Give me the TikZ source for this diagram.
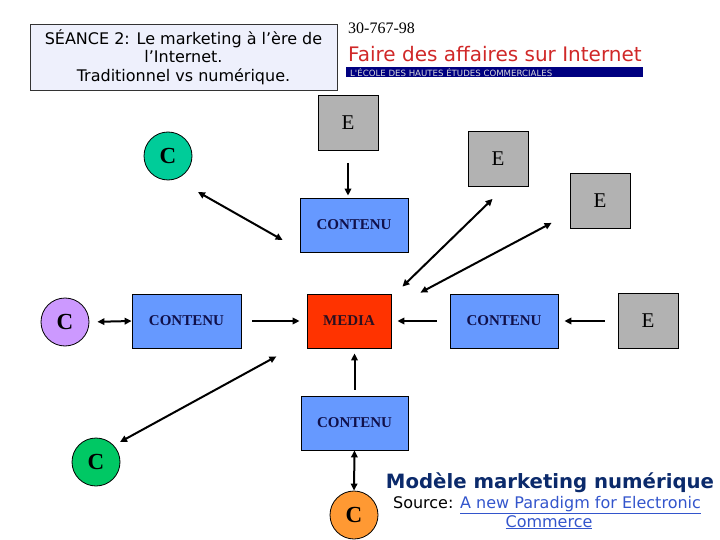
\documentclass[tikz,border=0pt]{standalone}
\usepackage{fontspec}
\setmainfont{Liberation Serif}
\newfontfamily\tah{DejaVu Sans}
\usetikzlibrary{arrows.meta,calc}
\definecolor{egray}{HTML}{B2B2B2}
\definecolor{cblue}{HTML}{6699FF}
\definecolor{ctext}{HTML}{10104A}
\definecolor{mred}{HTML}{FF3300}
\definecolor{mtext}{HTML}{2A1020}
\definecolor{cteal}{HTML}{00CC99}
\definecolor{cpurple}{HTML}{CC99FF}
\definecolor{cgreen}{HTML}{00C864}
\definecolor{corange}{HTML}{FF9933}
\definecolor{tfill}{HTML}{EEF0FC}
\definecolor{tborder}{HTML}{333333}
\definecolor{fred}{HTML}{D02828}
\definecolor{barnavy}{HTML}{000080}
\definecolor{navyt}{HTML}{0B2A6B}
\definecolor{linkb}{HTML}{3355CC}
\begin{document}
\begin{tikzpicture}[x=1pt,y=-1pt,
  ebox/.style={draw=black, line width=0.8pt, fill=egray, minimum width=60pt, minimum height=55pt, inner sep=0pt, font=\fontsize{21}{21}\selectfont},
  cbox/.style={draw=black, line width=0.8pt, fill=cblue, minimum width=108pt, minimum height=54pt, inner sep=0pt, font=\fontsize{15}{15}\selectfont\bfseries, text=ctext},
  ccirc/.style={circle, draw=black, line width=0.8pt, minimum size=48pt, inner sep=0pt, font=\fontsize{23}{23}\selectfont\bfseries},
  arr/.style={line width=2pt, -{Triangle[length=7pt,width=6.5pt]}},
  dbl/.style={line width=2pt, {Triangle[length=7pt,width=6.5pt]}-{Triangle[length=7pt,width=6.5pt]}},
]
\useasboundingbox (0,0) rectangle (720,540);

% title box
\node[draw=tborder, fill=tfill, line width=0.8pt, minimum width=307pt, minimum height=66pt, inner sep=0pt, align=center, font=\tah\fontsize{16}{18.5}\selectfont] (title) at (183.5,57)
  {SÉANCE 2: Le marketing à l’ère de\\l’Internet.\\Traditionnel vs numérique.};

% header
\node[anchor=base west, inner sep=0pt, font=\fontsize{16}{16}\selectfont] (num) at (348,34) {30-767-98};
\node[anchor=base west, inner sep=0pt, font=\tah\fontsize{20}{20}\selectfont, text=fred] (faire) at (348,62) {Faire des affaires sur Internet};
\node[anchor=north west, fill=barnavy, minimum width=297pt, minimum height=10pt, inner sep=0pt] (bar) at (346,67) {};
\node[anchor=west, inner sep=0pt, font=\tah\fontsize{8.6}{8.6}\selectfont, text=gray!30] (barlbl) at ($(bar.west)+(4,0)$) {L'ÉCOLE DES HAUTES ÉTUDES COMMERCIALES};

% nodes
\node[ebox] (e1) at (348,123) {E};
\node[ebox] (e2) at (498,159) {E};
\node[ebox] (e3) at (600,201) {E};
\node[ebox] (e4) at (648,321) {E};
\node[cbox] (cont1) at (354,225) {CONTENU};
\node[cbox, minimum width=109pt] (cont2) at (186.5,321) {CONTENU};
\node[cbox, minimum width=84pt, fill=mred, text=mtext] (media) at (349,321) {MEDIA};
\node[cbox] (cont3) at (504,321) {CONTENU};
\node[cbox, minimum width=107pt] (cont4) at (354.5,423) {CONTENU};
\node[ccirc, fill=cteal] (c1) at (168,156) {C};
\node[ccirc, fill=cpurple] (c2) at (65,322) {C};
\node[ccirc, fill=cgreen] (c3) at (96,462) {C};
\node[ccirc, fill=corange] (c4) at (354,515) {C};

% connectors
\draw[arr, shorten <=12pt, shorten >=2pt] (e1.south) -- (e1.south |- cont1.north);
\draw[dbl] ($(c1)+(30,36)$) -- ($(cont1.west)+(-17,15)$);
\draw[dbl] ($(media.north east)+(11,-7)$) -- ($(e2.south west)+(25,12)$);
\draw[dbl] ($(media.north east)+(29,-1)$) -- ($(e3.south west)+(-18,-6)$);
\draw[dbl, shorten <=8pt] (c2.east) -- (cont2.west);
\draw[arr, shorten <=11pt, shorten >=7pt] (cont2.east) -- (media.west);
\draw[arr, shorten <=13pt, shorten >=6pt] (cont3.west) -- (media.east);
\draw[arr, shorten <=13pt, shorten >=6pt] (e4.west) -- (cont3.east);
\draw[arr, shorten <=6pt, shorten >=5pt] (cont4.north) -- (cont4.north |- media.south);
\draw[dbl] (cont4.south) -- (c4.north);
\draw[dbl] ($(c3)+(24,-20)$) -- ($(cont2.south east)+(35,8)$);

% caption
\node[anchor=base, inner sep=0pt, font=\tah\bfseries\fontsize{19.7}{20}\selectfont, text=navyt] (model) at (550,488) {Modèle marketing numérique};
\node[anchor=base, inner sep=0pt, font=\tah\fontsize{16}{16}\selectfont] (src1) at (547,508) {Source: \textcolor{linkb}{\underline{A new Paradigm for Electronic}}};
\node[anchor=base, inner sep=0pt, font=\tah\fontsize{16}{16}\selectfont, text=linkb] (src2) at (549,527) {\underline{Commerce}};
\end{tikzpicture}
\end{document}
